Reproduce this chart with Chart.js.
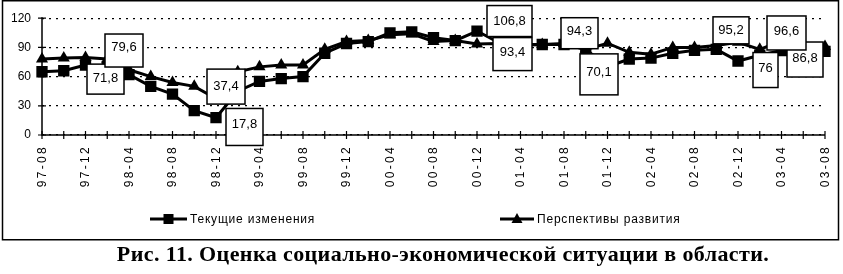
<!DOCTYPE html>
<html><head><meta charset="utf-8">
<script src="https://cdn.jsdelivr.net/npm/chart.js@4/dist/chart.umd.min.js"></script>
<style>
html,body{margin:0;padding:0;background:#fff;width:843px;height:274px;overflow:hidden;}
#wrap{position:relative;width:843px;height:274px;}
#c{position:absolute;left:0;top:0;}
#cap{position:absolute;left:0;width:886px;top:241px;text-align:center;font:bold 22px "Liberation Serif","Times New Roman",serif;letter-spacing:0.4px;color:#000;white-space:nowrap;}
</style></head><body>
<div id="wrap"><canvas id="c" width="843" height="242"></canvas>
<div id="cap">Рис. 11. Оценка социально-экономической ситуации в области.</div></div>
<script>
// ---- data ----
const categories = ['97-08','97-10','97-12','98-02','98-04','98-06','98-08','98-10','98-12','99-02','99-04','99-06','99-08','99-10','99-12','00-02','00-04','00-06','00-08','00-10','00-12','01-02','01-04','01-06','01-08','01-10','01-12','02-02','02-04','02-06','02-08','02-10','02-12','03-02','03-04','03-06','03-08'];
const currentChanges = [65, 66, 71.8, 70, 62, 50, 42, 25, 17.8, 45, 55, 58, 60, 84, 94, 96, 105, 106, 100, 97, 106.8, 95, 93, 93, 93, 88, 70.1, 78, 79, 84, 87, 88, 76, 82, 86.8, 86, 86];
const developmentProspects = [78, 79, 79.6, 78, 67, 60, 54, 50, 37.4, 65, 70, 72, 72, 88, 96, 97, 103, 104, 96, 97, 93.4, 94, 92, 93, 94, 88, 94.3, 85, 83, 90, 90, 92, 95.2, 88, 96.6, 90, 91];
const yTicks = [0, 30, 60, 90, 120];
const seriesNames = ['Текущие изменения', 'Перспективы развития'];
const labelledPoints = [2, 8, 20, 26, 32, 34];

// ---- label box placement (style only): [dx, dy, w, h, textDy] from point ----
const squareLabelBoxes = [[20,14,37,30,-1],[28.5,9.3,37,37,-3],[32.5,-10,45,31,0],[-8.5,7.6,38,41,-2],[27.5,9,25,35,-2],[23.5,9,36,35,-1]];
const triangleLabelBoxes = [[38.5,-7,38,33,-3],[10,-12,38,35,0],[35.5,10,39,33,-1.5],[-28,-10,37,31,-1.5],[-7,-12,36,27,0],[5,-8,39,34,-2]];

const fmt = v => String(v).replace('.', ',');
const FONT = '"Liberation Sans", Arial, sans-serif';

const overlay = {
  id: 'overlay',
  beforeDatasetsDraw(chart) {
    const {ctx, chartArea: a, scales: {x, y}} = chart;
    ctx.save();
    ctx.strokeStyle = '#000';
    ctx.lineWidth = 1.5;
    ctx.beginPath();
    ctx.moveTo(a.left, a.top - 1); ctx.lineTo(a.left, a.bottom); ctx.lineTo(a.right, a.bottom);
    ctx.stroke();
    ctx.lineWidth = 1.2;
    ctx.beginPath();
    categories.forEach((c, i) => { const px = x.getPixelForValue(i); ctx.moveTo(px, a.bottom - 4); ctx.lineTo(px, a.bottom + 4); });
    yTicks.forEach(v => { const py = y.getPixelForValue(v); ctx.moveTo(a.left - 4, py); ctx.lineTo(a.left + 4, py); });
    ctx.stroke();
    ctx.restore();
  },
  afterDatasetsDraw(chart) {
    const {ctx} = chart;
    const drawSet = (dsIndex, boxes) => {
      const meta = chart.getDatasetMeta(dsIndex);
      const data = chart.data.datasets[dsIndex].data;
      labelledPoints.forEach((pi, k) => {
        const el = meta.data[pi];
        const [dx, dy, w, h, tdy] = boxes[k];
        const cx = el.x + dx, cy = el.y + dy;
        ctx.save();
        ctx.fillStyle = '#fff';
        ctx.strokeStyle = '#000';
        ctx.lineWidth = 1.5;
        ctx.fillRect(cx - w / 2, cy - h / 2, w, h);
        ctx.strokeRect(cx - w / 2, cy - h / 2, w, h);
        ctx.fillStyle = '#000';
        ctx.font = '13px ' + FONT;
        ctx.textAlign = 'center';
        ctx.textBaseline = 'middle';
        ctx.fillText(fmt(data[pi]), cx, cy + tdy);
        ctx.restore();
      });
    };
    drawSet(0, squareLabelBoxes);
    drawSet(1, triangleLabelBoxes);
  },
  afterDraw(chart) {
    const {ctx, chartArea: a, scales: {x}} = chart;
    ctx.save();
    // x-axis category labels (every second period), rotated
    ctx.fillStyle = '#000';
    ctx.font = '12px ' + FONT;
    ctx.letterSpacing = '2.3px';
    ctx.textAlign = 'right';
    ctx.textBaseline = 'middle';
    categories.forEach((c, i) => {
      if (i % 2) return;
      const px = x.getPixelForValue(i);
      ctx.save();
      ctx.translate(px + 0.5, a.bottom + 10);
      ctx.rotate(-Math.PI / 2);
      ctx.fillText(c, 0, 0);
      ctx.restore();
    });
    ctx.letterSpacing = '0.8px';
    // legend
    const items = [
      {x0: 150, x1: 187, text: seriesNames[0], style: 'rect'},
      {x0: 500, x1: 534, text: seriesNames[1], style: 'triangle'}
    ];
    const ly = 219;
    items.forEach(it => {
      ctx.strokeStyle = '#000';
      ctx.lineWidth = 3;
      ctx.beginPath(); ctx.moveTo(it.x0, ly); ctx.lineTo(it.x1, ly); ctx.stroke();
      const mx = (it.x0 + it.x1) / 2;
      ctx.fillStyle = '#000';
      if (it.style === 'rect') { ctx.fillRect(mx - 5, ly - 5, 10, 10); }
      else { ctx.beginPath(); ctx.moveTo(mx, ly - 6); ctx.lineTo(mx + 5.5, ly + 4); ctx.lineTo(mx - 5.5, ly + 4); ctx.closePath(); ctx.fill(); }
      ctx.font = '12px ' + FONT;
      ctx.textAlign = 'left';
      ctx.textBaseline = 'middle';
      ctx.fillText(it.text, it.x1 + 3, ly + 1);
    });
    ctx.letterSpacing = '0px';
    ctx.strokeStyle = '#000';
    ctx.lineWidth = 1.5;
    ctx.strokeRect(2.5, 0.75, 836, 239);
    ctx.restore();
  }
};

new Chart(document.getElementById('c'), {
  type: 'line',
  data: {
    labels: categories,
    datasets: [
      {label: seriesNames[0], data: currentChanges, borderColor: '#000', borderWidth: 3, pointStyle: 'rect', pointRadius: 8, pointBackgroundColor: '#000', pointBorderColor: '#000', pointBorderWidth: 0, tension: 0},
      {label: seriesNames[1], data: developmentProspects, borderColor: '#000', borderWidth: 3, pointStyle: 'triangle', pointRadius: 7, pointBackgroundColor: '#000', pointBorderColor: '#000', pointBorderWidth: 0, tension: 0}
    ]
  },
  options: {
    responsive: false,
    animation: false,
    layout: {padding: {left: 0, right: 18, top: 15, bottom: 0}},
    plugins: {legend: {display: false}, tooltip: {enabled: false}},
    scales: {
      x: {
        offset: false,
        grid: {display: false, drawTicks: false},
        border: {display: false},
        ticks: {display: false, autoSkip: false},
        afterFit: s => { s.height = 107; }
      },
      y: {
        min: 0, max: 120,
        grid: {color: '#000', lineWidth: 1.2, drawTicks: false},
        border: {display: false, dash: [2, 5]},
        ticks: {stepSize: 30, padding: 11, color: '#000', font: {family: FONT, size: 12}},
        afterFit: s => { s.width = 42; }
      }
    }
  },
  plugins: [overlay]
});
</script>
</body></html>
